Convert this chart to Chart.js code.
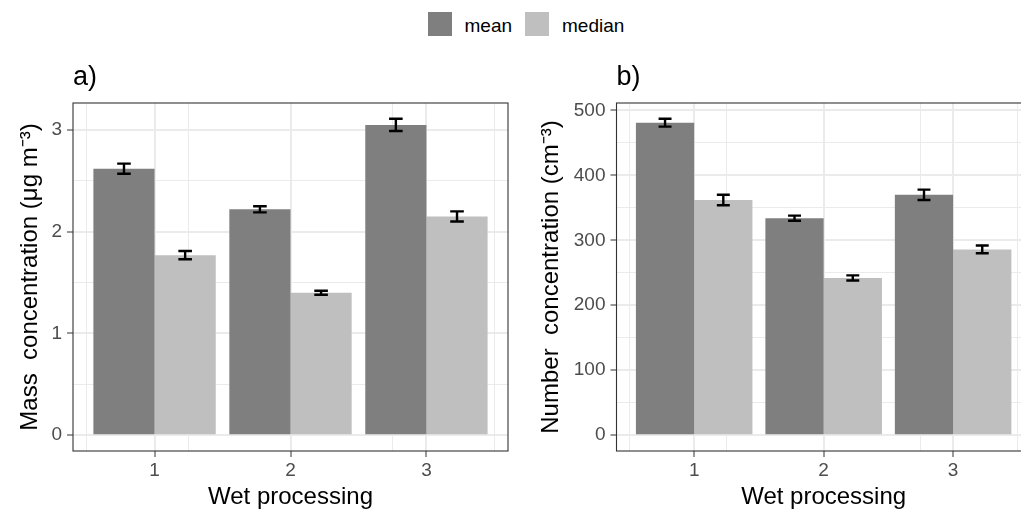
<!DOCTYPE html>
<html>
<head>
<meta charset="utf-8">
<script src="https://cdn.jsdelivr.net/npm/chart.js@4.4.1/dist/chart.umd.min.js"></script>
<style>
  html, body { margin: 0; padding: 0; background: #fff; overflow: hidden; }
  body { width: 1021px; height: 510px; position: relative; font-family: "Liberation Sans", Arial, sans-serif; }
  #chart-a { position: absolute; left: 0; top: 0; }
  #chart-b { position: absolute; left: 510px; top: 0; }
  .legend-key { position: absolute; top: 12px; width: 24px; height: 24px; }
  .legend-label { position: absolute; top: 14px; font-size: 19px; line-height: 24px; color: #000; white-space: nowrap; }
</style>
</head>
<body>
<div id="legend"></div>
<canvas id="chart-a" width="510" height="510"></canvas>
<canvas id="chart-b" width="530" height="510"></canvas>
<script>
const categories = ['1', '2', '3'];
const seriesNames = ['mean', 'median'];
const seriesColors = ['#7f7f7f', '#bfbfbf'];

// mass concentration (µg m-3)
const massMean = [2.62, 2.22, 3.05];
const massMeanErr = [0.05, 0.03, 0.06];
const massMedian = [1.77, 1.40, 2.15];
const massMedianErr = [0.04, 0.02, 0.05];
const massTicks = [0, 1, 2, 3];

// number concentration (cm-3)
const numberMean = [481, 334, 370];
const numberMeanErr = [6, 4, 8];
const numberMedian = [362, 242, 286];
const numberMedianErr = [8, 4, 6];
const numberTicks = [0, 100, 200, 300, 400, 500];

Chart.defaults.font.family = '"Liberation Sans", Arial, sans-serif';

const xPositions = categories.map((c, i) => i + 1);
const xMin = 0.4, xMax = categories.length + 0.6;

// midpoints between major breaks, one step past each end, kept inside the range
function minorBreaks(majors, lo, hi) {
    const step = majors[1] - majors[0];
    const out = [];
    for (let v = majors[0] - step / 2; v <= majors[majors.length - 1] + step / 2 + 1e-9; v += step) {
        if (v >= lo && v <= hi) out.push(+v.toFixed(6));
    }
    return out;
}

const errorBars = {
    id: 'errorBars',
    afterDatasetsDraw(chart) {
        const ctx = chart.ctx;
        const xs = chart.scales.x, ys = chart.scales.y;
        const half = (xs.getPixelForValue(1.05) - xs.getPixelForValue(0.95)) / 2;
        ctx.save();
        ctx.strokeStyle = '#000';
        ctx.lineWidth = 2.4;
        chart.data.datasets.forEach((ds, di) => {
            chart.getDatasetMeta(di).data.forEach((bar, i) => {
                const v = ds.data[i].y, e = ds.errors[i];
                const top = ys.getPixelForValue(v + e);
                const bot = ys.getPixelForValue(v - e);
                ctx.beginPath();
                ctx.moveTo(bar.x - half, top); ctx.lineTo(bar.x + half, top);
                ctx.moveTo(bar.x, top); ctx.lineTo(bar.x, bot);
                ctx.moveTo(bar.x - half, bot); ctx.lineTo(bar.x + half, bot);
                ctx.stroke();
            });
        });
        ctx.restore();
    }
};

const panelBorder = {
    id: 'panelBorder',
    afterDraw(chart) {
        const a = chart.chartArea;
        const ctx = chart.ctx;
        ctx.save();
        ctx.strokeStyle = '#333333';
        ctx.lineWidth = 1.1;
        ctx.strokeRect(a.left, a.top, a.right - a.left, a.bottom - a.top);
        ctx.restore();
    }
};

function makePanel(canvasId, cfg) {
    const top = Math.max(...cfg.mean.map((v, i) => v + cfg.meanErr[i]),
                         ...cfg.median.map((v, i) => v + cfg.medianErr[i]));
    const yMin = -0.05 * top, yMax = top * 1.05;
    const yMinor = minorBreaks(cfg.ticks, yMin, yMax);
    const yAll = cfg.ticks.concat(yMinor).sort((a, b) => a - b);
    const xMinor = minorBreaks(xPositions, xMin, xMax);
    const isMajorY = v => cfg.ticks.includes(v);

    const series = [[cfg.mean, cfg.meanErr], [cfg.median, cfg.medianErr]];

    return new Chart(document.getElementById(canvasId), {
        type: 'bar',
        data: {
            datasets: series.map((s, k) => ({
                label: seriesNames[k],
                data: s[0].map((v, i) => ({ x: xPositions[i], y: v })),
                errors: s[1],
                backgroundColor: seriesColors[k],
                borderWidth: 0,
                categoryPercentage: 0.9,
                barPercentage: 1
            }))
        },
        options: {
            responsive: false,
            animation: false,
            layout: { padding: { left: 0, right: cfg.padRight, top: 0, bottom: 0 } },
            plugins: {
                legend: { display: false },
                tooltip: { enabled: false },
                title: {
                    display: true,
                    text: cfg.tag,
                    align: 'start',
                    fullSize: false,
                    color: '#000',
                    font: { size: 27, weight: 'normal', lineHeight: 1.2 },
                    padding: { top: 61, bottom: 9.6 }
                }
            },
            scales: {
                x: {
                    type: 'linear',
                    position: 'bottom',
                    min: xMin,
                    max: xMax,
                    offset: false,
                    afterBuildTicks: s => { s.ticks = xPositions.map(v => ({ value: v })); },
                    afterFit: s => { s.height = 59; },
                    grid: { offset: false, color: '#ebebeb', lineWidth: 2, tickColor: '#333333', tickLength: 6, tickWidth: 1 },
                    border: { display: false },
                    ticks: {
                        color: '#4d4d4d',
                        font: { size: 19 },
                        padding: 2,
                        autoSkip: false,
                        maxRotation: 0,
                        callback: v => categories[v - 1]
                    },
                    title: {
                        display: true,
                        text: 'Wet processing',
                        color: '#000',
                        font: { size: 24, lineHeight: 1 },
                        padding: { top: 0, bottom: 1 }
                    }
                },
                xm: {
                    type: 'linear',
                    position: 'top',
                    min: xMin,
                    max: xMax,
                    afterBuildTicks: s => { s.ticks = xMinor.map(v => ({ value: v })); },
                    afterFit: s => { s.height = 0; },
                    grid: { color: '#ebebeb', lineWidth: 1, drawTicks: false },
                    border: { display: false },
                    ticks: { display: false }
                },
                y: {
                    min: yMin,
                    max: yMax,
                    afterBuildTicks: s => { s.ticks = yAll.map(v => ({ value: v })); },
                    afterFit: s => { s.width = cfg.yWidth; },
                    grid: {
                        color: '#ebebeb',
                        lineWidth: c => (c.tick && isMajorY(c.tick.value)) ? 2 : 1,
                        tickColor: c => (c.tick && isMajorY(c.tick.value)) ? '#333333' : 'rgba(0,0,0,0)',
                        tickLength: 6,
                        tickWidth: 1
                    },
                    border: { display: false },
                    ticks: {
                        color: '#4d4d4d',
                        font: { size: 19 },
                        padding: 5,
                        autoSkip: false,
                        callback: v => isMajorY(v) ? String(v) : ''
                    },
                    title: {
                        display: true,
                        text: cfg.yTitle,
                        color: '#000',
                        font: { size: 24, lineHeight: 1 },
                        padding: { top: cfg.yTitlePad, bottom: 0 }
                    }
                }
            }
        },
        plugins: [errorBars, panelBorder]
    });
}

function buildLegend() {
    const legend = document.getElementById('legend');
    const keyLeft = [428, 525];
    const labelLeft = [464.5, 562];
    seriesNames.forEach((name, i) => {
        const key = document.createElement('div');
        key.className = 'legend-key';
        key.style.left = keyLeft[i] + 'px';
        key.style.background = seriesColors[i];
        legend.appendChild(key);
        const label = document.createElement('div');
        label.className = 'legend-label';
        label.style.left = labelLeft[i] + 'px';
        label.textContent = name;
        legend.appendChild(label);
    });
}

buildLegend();

makePanel('chart-a', {
    tag: 'a)',
    mean: massMean, meanErr: massMeanErr,
    median: massMedian, medianErr: massMedianErr,
    ticks: massTicks,
    yTitle: 'Mass  concentration (\u03bcg m\u207b\u00b3)',
    yWidth: 73, yTitlePad: 18, padRight: 2
});

makePanel('chart-b', {
    tag: 'b)',
    mean: numberMean, meanErr: numberMeanErr,
    median: numberMedian, medianErr: numberMedianErr,
    ticks: numberTicks,
    yTitle: 'Number  concentration (cm\u207b\u00b3)',
    yWidth: 106.5, yTitlePad: 29, padRight: 9.2
});
</script>
</body>
</html>
